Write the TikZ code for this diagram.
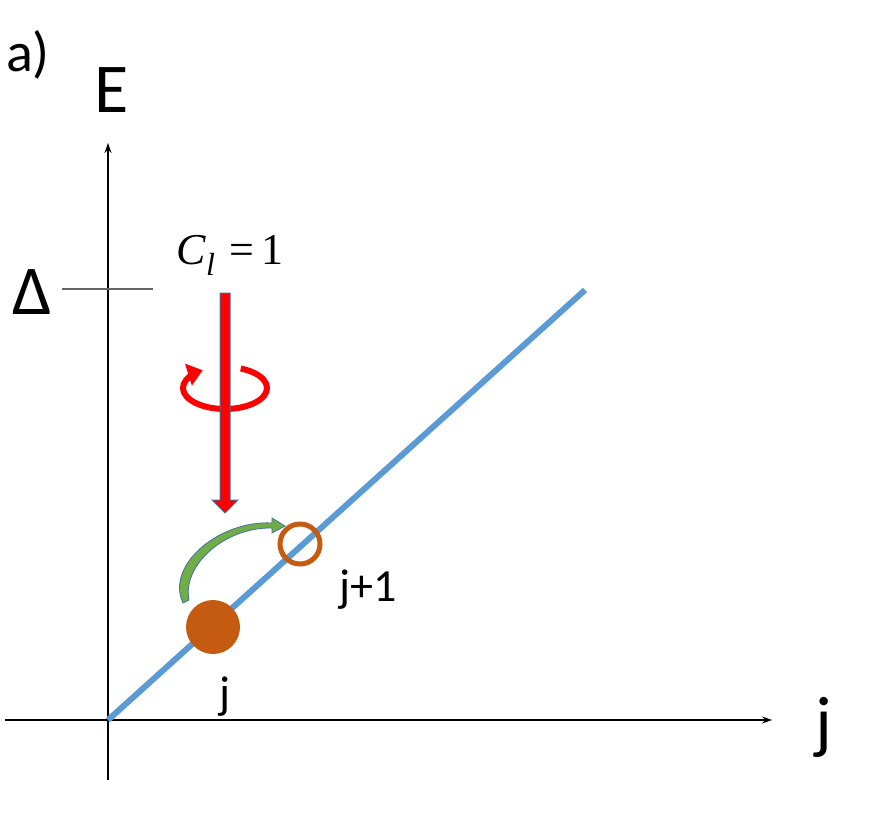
\documentclass[tikz,border=0pt]{standalone}
\usepackage{fontspec}
\setmainfont{Carlito}
\newfontfamily\serifm{Liberation Serif}
\usetikzlibrary{arrows.meta}
\definecolor{lblue}{RGB}{91,155,213}
\definecolor{rust}{RGB}{197,90,17}
\definecolor{gfill}{RGB}{112,173,71}
\definecolor{outl}{RGB}{65,113,156}
\begin{document}
\begin{tikzpicture}[x=1pt,y=-1pt,
  lbl/.style={inner sep=0pt,font=\fontsize{46}{46}\selectfont},
  big/.style={inner sep=0pt,font=\fontsize{70}{70}\selectfont}]
\useasboundingbox (0,0) rectangle (895,819);
% axes
\coordinate (yb) at (108,780); \coordinate (yt) at (108,143);
\coordinate (xl) at (5,720); \coordinate (xr) at (772,720);
\draw[line width=1.5pt,-{Stealth[length=10pt,width=7pt]}] (yb) -- (yt);
\draw[line width=1.5pt,-{Stealth[length=10pt,width=7pt]}] (xl) -- (xr);
\node[inner sep=0pt,font=\fontsize{56}{56}\selectfont] (a) at (28,55) {a)};
\node[big] (E) at (112,90) {E};
\node[big] (jx) at (824,727) {j};
\node[big] (D) at (32,292) {Δ};
\coordinate (t1) at (62,289); \coordinate (t2) at (153,289);
\draw[line width=2.5pt,black!60] (t1) -- (t2);
\node[inner sep=0pt,font=\fontsize{44}{44}\serifm] (C) at (230,255) {\textit{C}\raisebox{-0.25em}{\fontsize{32}{32}\selectfont\textit{l}}\,\,=\,1};
% blue line
\coordinate (o) at (108,720); \coordinate (e) at (585,290);
\draw[lblue,line width=6pt] (o) -- (e);
% rotation ring
\draw[red,line width=6pt,-{Triangle[length=15pt,width=22pt]}] (225,388) ++(-68:42 and 21) arc[start angle=-68,end angle=238,x radius=42,y radius=21];
% red arrow
\filldraw[fill=red,draw=outl,line width=1pt] (220,293) -- (230,293) -- (230,500) -- (238,500) -- (225,513) -- (212,500) -- (220,500) -- cycle;
% sites
\node[circle,fill=rust,minimum size=54pt,inner sep=0pt] (p) at (213,627) {};
\node[circle,draw=rust,line width=5pt,minimum size=40pt,inner sep=0pt] (q) at (300,544) {};
% curved arrow
\filldraw[fill=gfill,draw=outl,line width=0.8pt] (183,603) .. controls (165,565) and (220,520) .. (272,523) -- (272,518) -- (285,526) -- (272,533) -- (272,528) .. controls (225,527) and (182,565) .. (189,600) -- cycle;
\node[lbl] (j1) at (368,590) {j+1};
\node[lbl] (j) at (225,697) {j};
\end{tikzpicture}
\end{document}
